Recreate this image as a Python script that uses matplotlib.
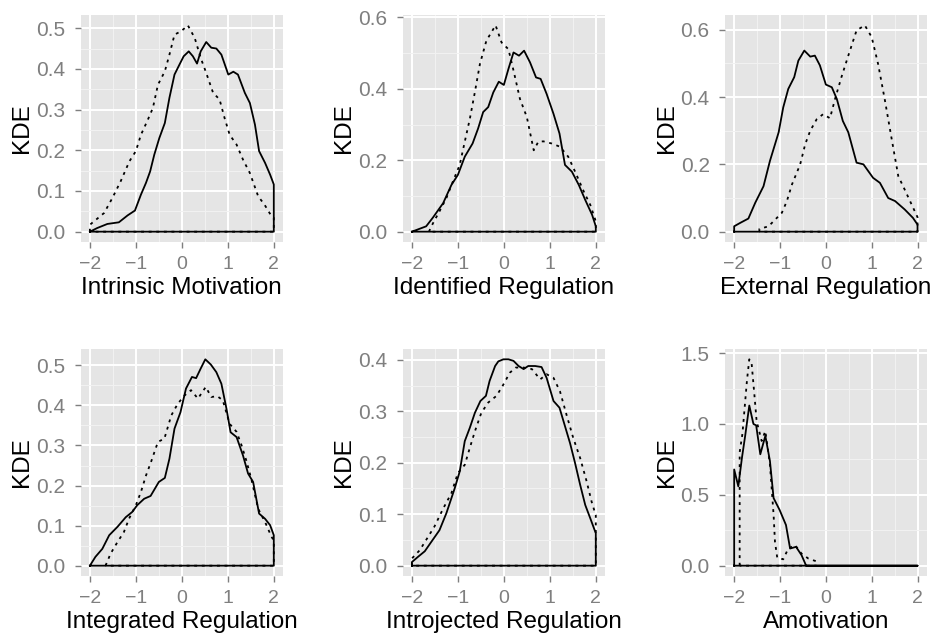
import numpy as np
import matplotlib
matplotlib.use('Agg')
import matplotlib.pyplot as plt

# values
# Intrinsic Motivation
intrinsic_solid_x = [-2.0, -1.84, -1.62, -1.37, -1.18, -1.02, -0.89, -0.78, -0.69, -0.60, -0.49, -0.37, -0.27,
                     -0.16, -0.05, 0.04, 0.15, 0.24, 0.33, 0.41, 0.53, 0.64, 0.75, 0.86, 1.01, 1.12, 1.22, 1.37,
                     1.48, 1.59, 1.68, 1.81, 1.92, 2.0]
intrinsic_solid_y = [0.0, 0.009, 0.019, 0.023, 0.040, 0.052, 0.091, 0.120, 0.148, 0.189, 0.230, 0.267, 0.329,
                     0.386, 0.411, 0.431, 0.443, 0.431, 0.413, 0.443, 0.466, 0.452, 0.450, 0.435, 0.386, 0.393,
                     0.386, 0.341, 0.316, 0.263, 0.198, 0.169, 0.140, 0.116]
intrinsic_dotted_x = [-2.0, -1.69, -1.51, -1.33, -1.14, -1.0, -0.89, -0.74, -0.63, -0.52, -0.37, -0.27, -0.16,
                      -0.01, 0.13, 0.28, 0.41, 0.53, 0.68, 0.82, 0.93, 1.04, 1.19, 1.33, 1.48, 1.66, 1.80, 1.95, 2.0]
intrinsic_dotted_y = [0.017, 0.046, 0.083, 0.124, 0.173, 0.198, 0.238, 0.275, 0.304, 0.361, 0.394, 0.435, 0.484,
                      0.493, 0.507, 0.476, 0.427, 0.390, 0.341, 0.325, 0.279, 0.238, 0.214, 0.177, 0.144, 0.087,
                      0.066, 0.038, 0.034]

# Identified Regulation
identified_solid_x = [-2.0, -1.69, -1.54, -1.32, -1.14, -1.0, -0.85, -0.68, -0.56, -0.45, -0.34, -0.23, -0.11,
                      0.0, 0.10, 0.21, 0.33, 0.44, 0.57, 0.70, 0.80, 0.93, 1.08, 1.21, 1.33, 1.48, 1.63, 1.77,
                      1.92, 2.0]
identified_solid_y = [0.0, 0.015, 0.040, 0.080, 0.131, 0.159, 0.210, 0.247, 0.289, 0.335, 0.349, 0.390, 0.420,
                      0.411, 0.456, 0.502, 0.493, 0.507, 0.474, 0.432, 0.428, 0.386, 0.330, 0.275, 0.187, 0.168,
                      0.131, 0.089, 0.047, 0.015]
identified_dotted_x = [-1.63, -1.54, -1.40, -1.25, -1.11, -0.96, -0.85, -0.74, -0.63, -0.52, -0.38, -0.18, -0.05,
                       0.10, 0.22, 0.35, 0.50, 0.65, 0.75, 0.86, 1.04, 1.22, 1.40, 1.55, 1.74, 1.88, 2.0]
identified_dotted_y = [0.0, 0.024, 0.057, 0.094, 0.140, 0.187, 0.252, 0.316, 0.391, 0.470, 0.535, 0.578, 0.530,
                       0.511, 0.446, 0.372, 0.321, 0.228, 0.252, 0.253, 0.247, 0.238, 0.210, 0.168, 0.112, 0.075,
                       0.029]

# External Regulation
external_solid_x = [-2.0, -1.87, -1.69, -1.54, -1.36, -1.22, -1.03, -0.93, -0.82, -0.69, -0.60, -0.47, -0.34,
                    -0.24, -0.13, 0.0, 0.13, 0.24, 0.37, 0.49, 0.67, 0.82, 1.03, 1.18, 1.36, 1.51, 1.72, 1.90, 2.0]
external_solid_y = [0.016, 0.026, 0.039, 0.086, 0.135, 0.210, 0.295, 0.369, 0.424, 0.459, 0.508, 0.538, 0.520,
                    0.523, 0.494, 0.437, 0.429, 0.394, 0.329, 0.295, 0.205, 0.200, 0.160, 0.145, 0.100, 0.091,
                    0.066, 0.041, 0.021]
external_dotted_x = [-1.45, -1.25, -0.96, -0.85, -0.74, -0.56, -0.45, -0.34, -0.20, -0.06, 0.09, 0.20, 0.34,
                     0.49, 0.67, 0.85, 1.0, 1.14, 1.29, 1.43, 1.58, 1.72, 1.87, 2.0]
external_dotted_y = [0.008, 0.016, 0.056, 0.091, 0.140, 0.200, 0.260, 0.300, 0.334, 0.349, 0.337, 0.394, 0.459,
                     0.523, 0.598, 0.613, 0.578, 0.498, 0.389, 0.280, 0.165, 0.125, 0.081, 0.043]

# Integrated Regulation
integrated_solid_x = [-2.0, -1.88, -1.73, -1.58, -1.40, -1.22, -1.08, -0.97, -0.82, -0.68, -0.50, -0.37, -0.27,
                      -0.16, -0.03, 0.09, 0.22, 0.31, 0.41, 0.51, 0.63, 0.75, 0.86, 0.97, 1.06, 1.19, 1.33, 1.44,
                      1.55, 1.68, 1.81, 1.92, 2.0]
integrated_solid_y = [0.0, 0.022, 0.042, 0.076, 0.097, 0.121, 0.134, 0.151, 0.167, 0.174, 0.209, 0.219, 0.267,
                      0.342, 0.383, 0.442, 0.471, 0.468, 0.492, 0.515, 0.502, 0.483, 0.454, 0.392, 0.333, 0.321,
                      0.275, 0.230, 0.209, 0.130, 0.117, 0.101, 0.076]
integrated_dotted_x = [-1.66, -1.55, -1.40, -1.26, -1.15, -1.0, -0.89, -0.78, -0.67, -0.52, -0.38, -0.23, -0.09,
                       0.06, 0.20, 0.35, 0.52, 0.64, 0.77, 0.89, 1.04, 1.19, 1.30, 1.40, 1.51, 1.66, 1.81, 1.95, 2.0]
integrated_dotted_y = [0.0, 0.030, 0.059, 0.084, 0.117, 0.151, 0.184, 0.225, 0.259, 0.309, 0.317, 0.375, 0.404,
                       0.425, 0.438, 0.417, 0.446, 0.421, 0.423, 0.413, 0.354, 0.334, 0.300, 0.263, 0.217, 0.142,
                       0.109, 0.072, 0.063]

# Introjected Regulation
introjected_solid_x = [-2.0, -1.87, -1.72, -1.58, -1.40, -1.25, -1.07, -0.96, -0.85, -0.74, -0.63, -0.51, -0.39,
                       -0.31, -0.19, -0.12, -0.01, 0.10, 0.21, 0.32, 0.43, 0.53, 0.68, 0.82, 0.93, 1.08, 1.21,
                       1.33, 1.44, 1.55, 1.66, 1.77, 1.88, 2.0]
introjected_solid_y = [0.007, 0.017, 0.028, 0.046, 0.069, 0.102, 0.150, 0.183, 0.242, 0.268, 0.297, 0.320, 0.330,
                       0.359, 0.388, 0.397, 0.401, 0.401, 0.398, 0.388, 0.382, 0.388, 0.388, 0.386, 0.365, 0.320,
                       0.307, 0.271, 0.238, 0.199, 0.157, 0.118, 0.092, 0.063]
introjected_dotted_x = [-2.0, -1.83, -1.69, -1.51, -1.32, -1.14, -1.0, -0.85, -0.74, -0.63, -0.49, -0.34, -0.16,
                        -0.01, 0.13, 0.26, 0.43, 0.61, 0.79, 0.93, 1.08, 1.22, 1.37, 1.51, 1.66, 1.80, 1.91, 2.0]
introjected_dotted_y = [0.014, 0.030, 0.050, 0.076, 0.111, 0.141, 0.180, 0.196, 0.229, 0.261, 0.297, 0.317, 0.330,
                        0.352, 0.375, 0.385, 0.385, 0.382, 0.362, 0.372, 0.365, 0.339, 0.291, 0.248, 0.209, 0.164,
                        0.124, 0.098]

# Amotivation
amotivation_solid_x = [-2.0, -1.91, -1.83, -1.76, -1.67, -1.58, -1.52, -1.43, -1.32, -1.22, -1.14, -1.01, -0.87,
                       -0.78, -0.65, -0.53, -0.43, 2.0]
amotivation_solid_y = [0.679, 0.560, 0.762, 0.916, 1.13, 1.0, 0.99, 0.786, 0.916, 0.739, 0.477, 0.394, 0.287,
                       0.121, 0.133, 0.074, 0.0, 0.0]
amotivation_dotted_x = [-1.88, -1.82, -1.72, -1.67, -1.62, -1.56, -1.51, -1.40, -1.32, -1.22, -1.14, -1.11, -1.06,
                        -0.93, -0.82, -0.67, -0.53, -0.38, -0.20]
amotivation_dotted_y = [0.80, 0.93, 1.31, 1.456, 1.43, 1.21, 1.02, 0.88, 0.95, 0.715, 0.358, 0.169, 0.055,
                        0.045, 0.121, 0.145, 0.085, 0.05, 0.03]

titles = ['Intrinsic Motivation', 'Identified Regulation', 'External Regulation',
          'Integrated Regulation', 'Introjected Regulation', 'Amotivation']
y_steps = [0.1, 0.2, 0.2, 0.1, 0.1, 0.5]

panels = [
    (intrinsic_solid_x, intrinsic_solid_y, intrinsic_dotted_x, intrinsic_dotted_y),
    (identified_solid_x, identified_solid_y, identified_dotted_x, identified_dotted_y),
    (external_solid_x, external_solid_y, external_dotted_x, external_dotted_y),
    (integrated_solid_x, integrated_solid_y, integrated_dotted_x, integrated_dotted_y),
    (introjected_solid_x, introjected_solid_y, introjected_dotted_x, introjected_dotted_y),
    (amotivation_solid_x, amotivation_solid_y, amotivation_dotted_x, amotivation_dotted_y),
]

plt.rcParams['font.family'] = ['Liberation Sans', 'DejaVu Sans']

W, H = 937, 637
fig = plt.figure(figsize=(W / 100, H / 100), dpi=100)

# plot area edges in pixels
lefts = [80.7, 402.7, 725.0]
rights = [283.0, 605.0, 926.7]
tops = [15.0, 349.0]
bottoms = [242.0, 576.0]


def outline(x, y):
    # closed density polygon like geom_density
    xs = [x[0]] + list(x) + [x[-1], x[0]]
    ys = [0] + list(y) + [0, 0]
    return xs, ys


for i, (sx, sy, dx, dy) in enumerate(panels):
    r, c = divmod(i, 3)
    ax = fig.add_axes([lefts[c] / W, 1 - bottoms[r] / H,
                       (rights[c] - lefts[c]) / W, (bottoms[r] - tops[r]) / H])
    ax.set_facecolor('#E5E5E5')
    for s in ax.spines.values():
        s.set_visible(False)

    ymax = max(max(sy), max(dy))
    top = 1.05 * ymax
    ax.set_xlim(-2.2, 2.2)
    ax.set_ylim(-0.05 * ymax, top)

    step = y_steps[i]
    yt = np.arange(0, top + 1e-9, step)
    ax.set_yticks(yt)
    ax.set_yticklabels(['%.1f' % v for v in yt])
    ax.set_yticks(np.arange(step / 2, top, step), minor=True)
    ax.set_xticks([-2, -1, 0, 1, 2])
    ax.set_xticklabels(['\u22122', '\u22121', '0', '1', '2'])
    ax.set_xticks([-1.5, -0.5, 0.5, 1.5], minor=True)

    ax.grid(True, which='major', color='white', linewidth=1.4)
    ax.grid(True, which='minor', color='#F2F2F2', linewidth=0.7)
    ax.set_axisbelow(True)

    ax.tick_params(which='major', length=4, width=1.0, color='#7F7F7F',
                   labelcolor='#7F7F7F')
    ax.tick_params(axis='y', pad=7, labelsize=15)
    ax.tick_params(axis='x', pad=6, labelsize=14)
    ax.tick_params(which='minor', length=0)

    xs, ys = outline(sx, sy)
    ax.plot(xs, ys, color='black', linewidth=1.3, solid_joinstyle='round')
    xs, ys = outline(dx, dy)
    ax.plot(xs, ys, color='black', linewidth=1.3, linestyle=(0, (1.6, 2.6)))

    ax.set_xlabel(titles[i], fontsize=17.5, labelpad=3)
    ax.set_ylabel('KDE', fontsize=17.5, labelpad=2)

fig.savefig('out.png', dpi=100)
